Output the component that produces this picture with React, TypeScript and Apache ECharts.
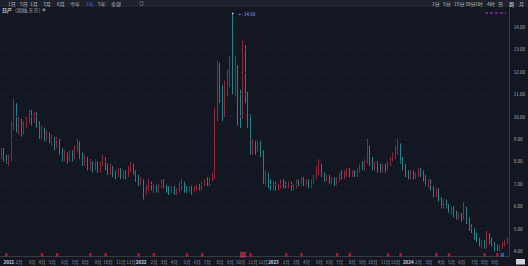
import { useEffect, useRef } from "react";
import * as echarts from "echarts";

// weekly candles: [open, close, low, high]
const candlesA: number[][] = [
  [8.3, 8.5, 8.1, 8.6], [8.5, 8.2, 8.0, 8.6], [8.2, 8.0, 7.9, 8.3], [8.0, 8.1, 7.8, 8.3],
  [8.1, 9.6, 8.0, 9.8], [9.6, 10.3, 9.4, 10.8], [10.3, 9.5, 9.3, 10.6], [9.5, 9.8, 9.2, 10.0],
  [9.8, 9.3, 9.1, 9.9], [9.3, 9.6, 9.2, 9.8], [9.6, 9.9, 9.5, 10.0], [9.9, 10.1, 9.7, 10.3],
  [10.1, 9.8, 9.6, 10.3], [9.8, 10.1, 9.7, 10.2], [10.1, 9.7, 9.5, 10.2], [9.7, 9.2, 9.0, 9.8],
  [9.2, 9.4, 9.0, 9.6], [9.4, 9.1, 8.9, 9.5], [9.1, 9.2, 8.9, 9.4], [9.2, 8.9, 8.8, 9.3],
  [8.9, 9.0, 8.7, 9.2], [9.0, 8.7, 8.5, 9.1], [8.7, 8.9, 8.6, 9.1], [8.9, 8.5, 8.3, 9.0],
  [8.5, 8.2, 8.0, 8.6], [8.2, 8.3, 8.0, 8.5], [8.3, 8.1, 7.9, 8.4], [8.1, 8.4, 8.0, 8.5],
  [8.4, 8.2, 8.0, 8.5], [8.2, 8.6, 8.1, 8.7], [8.6, 8.8, 8.4, 9.0], [8.8, 8.3, 8.1, 8.9],
  [8.3, 8.0, 7.8, 8.4], [8.0, 8.1, 7.8, 8.3], [8.1, 7.8, 7.6, 8.2], [7.8, 7.9, 7.6, 8.1],
  [7.9, 7.7, 7.5, 8.0], [7.7, 7.9, 7.6, 8.1], [7.9, 7.6, 7.5, 8.0], [7.6, 7.9, 7.5, 8.0],
  [7.9, 8.1, 7.8, 8.3], [8.1, 7.8, 7.6, 8.2], [7.8, 7.6, 7.4, 7.9], [7.6, 7.7, 7.4, 7.9],
  [7.7, 7.5, 7.3, 7.8], [7.5, 7.4, 7.2, 7.6], [7.4, 7.6, 7.3, 7.7], [7.6, 7.3, 7.2, 7.7],
  [7.3, 7.5, 7.2, 7.6], [7.5, 7.4, 7.2, 7.6],
];
const candlesB: number[][] = [
  [7.4, 7.7, 7.3, 7.8], [7.7, 7.8, 7.5, 8.0], [7.8, 7.5, 7.4, 7.9], [7.5, 7.3, 7.1, 7.6],
  [7.3, 7.1, 6.9, 7.4], [7.1, 7.2, 6.9, 7.3], [7.2, 6.6, 6.3, 7.2], [6.6, 6.9, 6.5, 7.0],
  [6.9, 7.0, 6.7, 7.2], [7.0, 6.8, 6.7, 7.1], [6.8, 6.9, 6.6, 7.0], [6.9, 6.7, 6.6, 7.0],
  [6.7, 6.9, 6.6, 7.0], [6.9, 7.1, 6.8, 7.2], [7.1, 6.9, 6.8, 7.2], [6.9, 6.8, 6.6, 7.0],
  [6.8, 6.7, 6.5, 6.9], [6.7, 6.8, 6.6, 6.9], [6.8, 6.6, 6.5, 6.9], [6.6, 6.7, 6.5, 6.8],
  [6.7, 6.9, 6.6, 7.1], [6.9, 7.0, 6.7, 7.2], [7.0, 6.8, 6.6, 7.1], [6.8, 6.7, 6.6, 6.9],
  [6.7, 6.8, 6.6, 6.9], [6.8, 6.7, 6.5, 6.9], [6.7, 6.8, 6.6, 6.9], [6.8, 6.9, 6.7, 7.0],
  [6.9, 6.8, 6.7, 7.0], [6.8, 7.0, 6.7, 7.1], [7.0, 7.1, 6.9, 7.2], [7.1, 7.0, 6.9, 7.3],
  [7.0, 7.2, 6.9, 7.3], [7.2, 7.3, 7.1, 7.5], [7.3, 10.0, 7.2, 10.4], [10.0, 12.2, 9.8, 12.5],
  [12.2, 11.0, 10.6, 12.4], [11.0, 10.2, 9.8, 11.4], [10.2, 11.2, 10.0, 11.6], [11.2, 11.8, 10.9, 12.1],
  [11.8, 12.4, 11.3, 12.7], [12.4, 11.4, 11.0, 14.6], [11.4, 12.2, 10.9, 12.7], [12.2, 10.6, 9.6, 12.3],
  [10.6, 10.0, 9.5, 11.2], [10.0, 13.0, 9.9, 13.4], [13.0, 11.0, 10.6, 13.2], [11.0, 9.9, 9.5, 11.1],
  [9.9, 8.6, 8.3, 10.1], [8.6, 8.8, 8.3, 9.0],
];
const candlesC: number[][] = [
  [8.8, 8.5, 8.3, 8.9], [8.5, 8.7, 8.4, 8.9], [8.7, 8.4, 8.2, 8.9], [8.4, 7.2, 7.0, 8.5],
  [7.2, 7.4, 6.9, 7.6], [7.4, 7.0, 6.8, 7.5], [7.0, 6.9, 6.7, 7.2], [6.9, 7.0, 6.7, 7.1],
  [7.0, 6.8, 6.7, 7.1], [6.8, 6.9, 6.7, 7.0], [6.9, 7.1, 6.8, 7.2], [7.1, 7.0, 6.8, 7.2],
  [7.0, 6.9, 6.8, 7.1], [6.9, 7.0, 6.8, 7.1], [7.0, 6.8, 6.7, 7.1], [6.8, 6.9, 6.7, 7.0],
  [6.9, 7.1, 6.8, 7.2], [7.1, 7.0, 6.9, 7.2], [7.0, 7.2, 6.9, 7.3], [7.2, 7.0, 6.9, 7.3],
  [7.0, 7.1, 6.9, 7.2], [7.1, 6.9, 6.8, 7.2], [6.9, 7.1, 6.8, 7.2], [7.1, 7.3, 7.0, 7.4],
  [7.3, 7.6, 7.2, 7.8], [7.6, 7.8, 7.4, 8.1], [7.8, 7.4, 7.3, 7.9], [7.4, 7.2, 7.1, 7.5],
  [7.2, 7.3, 7.1, 7.4], [7.3, 7.1, 7.0, 7.4], [7.1, 7.2, 7.0, 7.3], [7.2, 7.0, 6.9, 7.3],
  [7.0, 7.2, 6.9, 7.3], [7.2, 7.4, 7.1, 7.5], [7.4, 7.3, 7.2, 7.6], [7.3, 7.5, 7.2, 7.6],
  [7.5, 7.6, 7.3, 7.7], [7.6, 7.4, 7.3, 7.7], [7.4, 7.5, 7.3, 7.6], [7.5, 7.4, 7.3, 7.6],
  [7.4, 7.6, 7.3, 7.7], [7.6, 7.8, 7.5, 7.9], [7.8, 7.7, 7.6, 8.0], [7.7, 8.0, 7.6, 8.1],
  [8.0, 8.6, 7.9, 9.0], [8.6, 8.0, 7.8, 8.7], [8.0, 7.8, 7.6, 8.2], [7.8, 7.9, 7.6, 8.0],
  [7.9, 7.7, 7.5, 8.0], [7.7, 7.6, 7.5, 7.9],
];
const candlesD: number[][] = [
  [7.6, 7.8, 7.5, 7.9], [7.8, 7.7, 7.5, 7.9], [7.7, 7.9, 7.6, 8.0], [7.9, 8.1, 7.8, 8.2],
  [8.1, 8.3, 8.0, 8.4], [8.3, 8.5, 8.1, 8.7], [8.5, 8.7, 8.3, 9.0], [8.7, 8.1, 7.9, 8.8],
  [8.1, 7.8, 7.6, 8.2], [7.8, 7.5, 7.3, 7.9], [7.5, 7.4, 7.2, 7.6], [7.4, 7.5, 7.2, 7.6],
  [7.5, 7.3, 7.2, 7.6], [7.3, 7.4, 7.2, 7.5], [7.4, 7.6, 7.3, 7.7], [7.6, 7.5, 7.3, 7.7],
  [7.5, 7.3, 7.1, 7.6], [7.3, 7.0, 6.9, 7.4], [7.0, 7.1, 6.8, 7.2], [7.1, 6.8, 6.7, 7.2],
  [6.8, 6.6, 6.4, 6.9], [6.6, 6.7, 6.4, 6.8], [6.7, 6.3, 6.2, 6.8], [6.3, 6.1, 5.9, 6.4],
  [6.1, 6.2, 5.9, 6.3], [6.2, 6.0, 5.9, 6.3], [6.0, 5.8, 5.7, 6.1], [5.8, 5.9, 5.6, 6.0],
  [5.9, 5.7, 5.5, 6.0], [5.7, 5.5, 5.4, 5.8], [5.5, 5.6, 5.4, 5.7], [5.6, 5.5, 5.3, 5.7],
  [5.5, 6.0, 5.4, 6.2], [6.0, 5.4, 5.2, 6.0], [5.4, 5.1, 4.9, 5.5], [5.1, 4.9, 4.8, 5.2],
  [4.9, 4.7, 4.5, 5.0], [4.7, 4.5, 4.4, 4.8], [4.5, 4.3, 4.2, 4.6], [4.3, 4.4, 4.1, 4.5],
  [4.4, 4.2, 4.1, 4.5], [4.2, 4.7, 4.1, 4.9], [4.7, 4.5, 4.3, 4.8], [4.5, 4.3, 4.2, 4.6],
  [4.3, 4.2, 4.0, 4.4], [4.2, 4.1, 4.0, 4.3], [4.1, 4.2, 4.0, 4.3], [4.2, 4.3, 4.1, 4.4],
  [4.3, 4.4, 4.2, 4.5], [4.4, 4.5, 4.3, 4.6],
];
const candles = [...candlesA, ...candlesB, ...candlesC, ...candlesD];

// time axis tick labels: [candle index, label]
const monthTicks: [number, string][] = [
  [3, "2021"], [7, "2月"], [12, "3月"], [16, "4月"], [20, "5月"], [25, "6月"], [29, "7月"], [33, "8月"],
  [38, "9月"], [42, "10月"], [47, "11月"], [51, "12月"], [55, "2022"], [60, "2月"], [64, "3月"], [68, "4月"],
  [73, "5月"], [77, "6月"], [81, "7月"], [86, "8月"], [90, "9月"], [94, "10月"], [99, "11月"], [103, "12月"],
  [107, "2023"], [112, "2月"], [116, "3月"], [120, "4月"], [125, "5月"], [129, "6月"], [133, "7月"], [138, "8月"],
  [142, "9月"], [146, "10月"], [151, "11月"], [155, "12月"], [160, "2024"], [164, "2月"], [168, "3月"], [173, "4月"],
  [177, "5月"], [181, "6月"], [186, "7月"], [190, "8月"], [194, "9月"],
];
const priceGridLevels = [4, 5, 6, 7, 8, 9, 10, 11, 12, 13, 14];
const dividendIdx = [2, 16, 22, 35, 41, 54, 60, 73, 79, 98, 112, 118, 132, 137, 152, 157, 171, 176, 190, 195];
const earningsIdx = [95];
const newsIdx = [197];
const toolbarLeft = ["1日", "5日", "1月", "3月", "6月", "今年", "1年", "5年", "全部"];
const toolbarRight = ["1分", "5分", "15分", "30分", "1时", "4时", "日", "周", "月"];
const symbolName = "日产";
const symbolInfo = "（周线,东京）";

const FONT = "'Noto Sans CJK SC', 'Noto Sans', sans-serif";
const UP = "#e8324c";
const DOWN = "#3cc8d0";
const MARKER_LEVEL = 3.83;

export default function App() {
  const ref = useRef<HTMLDivElement>(null);
  useEffect(() => {
    document.body.style.margin = "0";
    document.body.style.background = "#131722";
    const chart = echarts.init(ref.current!, undefined, { renderer: "svg" });
    const cats = candles.map((_, i) => String(i));
    const tickMap = new Map<number, string>(monthTicks);
    const leftX = [8, 20, 30, 43, 57, 70, 86, 98, 111];
    const rightX = [432, 443, 454, 465, 475, 487, 498, 509, 519];
    const graphic: any[] = [
      { type: "rect", z: 100, shape: { x: 0, y: 0, width: 528, height: 7 }, style: { fill: "#1e222d" } },
      { type: "rect", z: 101, shape: { x: 140, y: 1.5, width: 3, height: 4 }, style: { fill: "none", stroke: "#787b86", lineWidth: 0.6 } },
      ...toolbarLeft.map((t, i) => ({
        type: "text", z: 101, x: leftX[i], y: 3.6,
        style: { text: t, fontSize: 5, fontFamily: FONT, fill: i === 6 ? "#2962ff" : "#b2b5be", verticalAlign: "middle" },
      })),
      ...toolbarRight.map((t, i) => ({
        type: "text", z: 101, x: rightX[i], y: 3.6,
        style: { text: t, fontSize: 5, fontFamily: FONT, fill: i === 7 ? "#ffffff" : "#b2b5be", verticalAlign: "middle" },
      })),
      {
        type: "text", z: 101, x: 2, y: 9.8,
        style: {
          text: `{b|${symbolName}}{g|${symbolInfo}}`, fontFamily: FONT, verticalAlign: "middle",
          rich: {
            b: { fontSize: 5, fontWeight: "bold", fill: "#d1d4dc", fontFamily: FONT },
            g: { fontSize: 5, fill: "#b2b5be", fontFamily: FONT },
          },
        },
      },
      { type: "circle", z: 101, shape: { cx: 44, cy: 9.8, r: 1.6 }, style: { fill: "#787b86" } },
      { type: "line", z: 101, shape: { x1: 485, y1: 13, x2: 506, y2: 13 }, style: { stroke: "#b63ed0", lineWidth: 1, lineDash: [3, 2] } },
      { type: "rect", z: 101, shape: { x: 516, y: 259, width: 9, height: 5.5 }, style: { fill: "#d1d4dc" } },
    ];
    chart.setOption({
      animation: false,
      backgroundColor: "#131722",
      textStyle: { fontFamily: FONT },
      grid: { left: 0, right: 16, top: 8, bottom: 9.4 },
      xAxis: {
        type: "category",
        data: cats,
        boundaryGap: true,
        axisLine: { show: true, lineStyle: { color: "#363a45", width: 1 } },
        axisTick: { show: false },
        splitLine: { show: false },
        axisLabel: {
          interval: (i: number) => tickMap.has(i),
          formatter: (_v: string, i: number) => {
            const t = tickMap.get(i) || "";
            return /^\d{4}$/.test(t) ? `{y|${t}}` : t;
          },
          fontSize: 4.5,
          color: "#9598a1",
          margin: 3,
          rich: { y: { fontSize: 4.5, fontWeight: "bold", color: "#d1d4dc" } },
        },
      },
      yAxis: {
        type: "value",
        position: "right",
        min: 3.75,
        max: 14.85,
        interval: 0.25,
        axisLine: { show: true, lineStyle: { color: "#363a45", width: 1 } },
        axisTick: { show: false },
        splitLine: { show: false },
        axisLabel: {
          fontSize: 4.5,
          color: "#b2b5be",
          margin: 5,
          formatter: (v: number) => (Math.abs(v - Math.round(v)) < 1e-6 && priceGridLevels.includes(Math.round(v)) ? v.toFixed(2) : ""),
        },
      },
      series: [
        {
          type: "candlestick",
          data: candles,
          barWidth: 1.3,
          itemStyle: { color: UP, color0: DOWN, borderColor: UP, borderColor0: DOWN, borderWidth: 0.6 },
          markLine: {
            silent: true,
            symbol: "none",
            label: { show: false },
            lineStyle: { color: "#1e222c", type: [2, 3], width: 1 },
            data: priceGridLevels.map((v) => ({ yAxis: v })),
          },
          markPoint: {
            symbol: "rect",
            symbolSize: [1.5, 1.5],
            itemStyle: { color: "#d1d4dc" },
            label: {
              show: true,
              position: "right",
              distance: 5,
              fontSize: 4.5,
              color: "#8fa8ff",
              formatter: (p: any) => "← " + Number(p.value).toFixed(2),
            },
            data: [{ type: "max", valueDim: "highest" }],
          },
        },
        {
          type: "scatter",
          data: dividendIdx.map((i) => [i, MARKER_LEVEL]),
          symbol: "rect",
          symbolSize: [2.5, 3.5],
          itemStyle: { color: "#d21c3a" },
          silent: true,
        },
        {
          type: "scatter",
          data: earningsIdx.map((i) => [i, MARKER_LEVEL]),
          symbol: "rect",
          symbolSize: [4.5, 4.5],
          itemStyle: { color: "#b0203a", borderColor: "#ff5a6e", borderWidth: 0.6 },
          silent: true,
        },
        {
          type: "scatter",
          data: newsIdx.map((i) => [i, MARKER_LEVEL]),
          symbol: "rect",
          symbolSize: [3.5, 4],
          itemStyle: { color: "#2e6bd8" },
          silent: true,
        },
      ],
      graphic,
    });
    return () => chart.dispose();
  }, []);
  return <div ref={ref} style={{ width: 528, height: 266 }} />;
}
